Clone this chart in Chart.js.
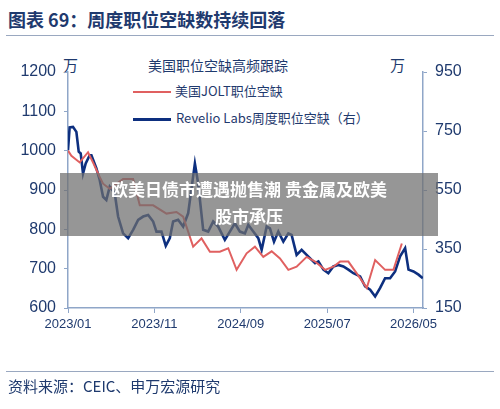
<!DOCTYPE html><html><head><meta charset="utf-8">
<script src="https://cdn.jsdelivr.net/npm/chart.js@4"></script>
<style>
body{margin:0;width:500px;height:409px;background:#fff;position:relative;overflow:hidden;font-family:"Noto Sans CJK SC","Noto Sans",sans-serif}
.a{position:absolute;white-space:nowrap}
canvas{position:absolute;left:0;top:0}
</style></head><body>
<div class="a" style="left:8px;top:6px;font-size:18px;font-weight:bold;color:#1f3a6e">图表 69：周度职位空缺数持续回落</div>
<div class="a" style="left:6px;top:35px;width:488px;height:1px;background:#9aa8c0"></div>
<div class="a" style="left:148px;top:55px;font-size:14px;color:#1f3a6e">美国职位空缺高频跟踪</div>
<div class="a" style="left:63px;top:54px;font-size:15px;color:#1f3a6e">万</div>
<div class="a" style="left:390px;top:54px;font-size:15px;color:#1f3a6e">万</div>
<div class="a" style="left:133px;top:91px;width:38px;height:2px;background:#e06060"></div>
<div class="a" style="left:175px;top:81px;font-size:13px;color:#1f3a6e">美国JOLT职位空缺</div>
<div class="a" style="left:133px;top:118px;width:38px;height:3px;background:#0d2f7f"></div>
<div class="a" style="left:176px;top:108px;font-size:13px;color:#1f3a6e">Revelio Labs周度职位空缺（右）</div>
<canvas id="c" width="500" height="409"></canvas>
<div class="a" style="left:60px;top:173px;width:378px;height:63px;background:rgba(110,110,110,0.72)"></div>
<div class="a" style="left:60px;top:175px;width:378px;text-align:center;font-size:17px;font-weight:bold;color:#fff;line-height:27px;white-space:normal">欧美日债市遭遇抛售潮 贵金属及欧美<br>股市承压</div>
<div class="a" style="left:6px;top:371px;width:488px;height:1px;background:#9aa8c0"></div>
<div class="a" style="left:8px;top:375px;font-size:15px;color:#1f3a6e">资料来源：CEIC、申万宏源研究</div>
<script>
const xTicks=[0,10,20,30,40];
const xLabels=['2023/01','2023/11','2024/09','2025/07','2026/05'];
const joltMonths=[0,0.39,1.35,2.32,2.90,3.67,4.06,4.83,6.38,7.54,8.31,9.86,11.40,12.56,13.33,14.49,15.46,16.43,17.58,18.55,19.52,20.68,21.64,22.61,23.58,24.54,25.51,26.47,27.63,28.60,29.76,30.72,31.50,32.46,33.43,34.59,35.56,36.71,37.68,38.65];
const joltValues=[1000,987,970,996,970,933,916,903,928,928,861,861,840,844,832,756,777,743,743,752,697,739,756,730,744,726,697,705,730,718,697,705,718,718,688,651,722,697,697,764];
const revMonths=[0,0.19,0.58,0.97,1.24,1.47,1.74,2.05,2.51,2.71,3.29,3.67,4.06,4.44,4.83,5.41,5.80,6.38,6.96,7.54,8.12,8.70,9.28,9.86,10.24,10.82,11.32,11.79,12.17,12.75,13.33,13.91,14.69,15.07,15.65,16.23,16.81,17.39,18.16,18.74,19.32,19.90,20.48,20.87,21.45,22.03,22.42,23.00,23.38,23.85,24.35,24.93,25.51,25.89,26.47,27.05,27.63,28.21,28.60,28.99,29.57,30.14,30.72,31.30,31.88,32.46,33.04,33.82,34.40,34.98,35.56,36.14,36.71,37.29,37.87,38.45,39.03,39.42,40.00,40.58,41.08];
const revValues=[685,762,764,747,680,674,606,640,668,668,623,584,527,516,561,539,460,403,387,415,449,460,465,443,409,409,361,387,443,449,426,471,640,572,415,409,443,426,381,409,437,409,403,432,409,387,347,426,420,375,409,375,403,398,330,347,330,313,302,308,280,268,291,296,291,280,268,257,223,212,189,218,251,251,274,325,353,280,274,263,251];
const pts=(xs,ys)=>xs.map((x,i)=>({x,y:ys[i]}));
const tc='#1f3a6e',ac='#8fa6c8';
new Chart(document.getElementById('c'),{type:'line',
data:{datasets:[
{data:pts(joltMonths,joltValues),borderColor:'#e06060',borderWidth:2,pointRadius:0,yAxisID:'y',tension:0},
{data:pts(revMonths,revValues),borderColor:'#0d2f7f',borderWidth:2.6,pointRadius:0,yAxisID:'y2',tension:0}]},
options:{responsive:false,animation:false,events:[],
layout:{padding:{top:72,right:0,left:0,bottom:0}},
plugins:{legend:{display:false},tooltip:{enabled:false}},
scales:{
x:{type:'linear',min:0,max:41.1,afterBuildTicks:s=>{s.ticks=xTicks.map(v=>({value:v}))},
 afterFit:s=>{s.height=101},
 grid:{display:true,drawOnChartArea:false,color:ac,tickLength:5},border:{color:ac,width:1.5},
 ticks:{color:tc,font:{size:13},padding:4,callback:v=>xLabels[xTicks.indexOf(v)]}},
y:{position:'left',min:600,max:1200,afterFit:s=>{s.width=68},
 ticks:{stepSize:100,color:tc,font:{size:16},padding:8,callback:v=>String(v)},
 grid:{drawOnChartArea:false,color:ac,tickLength:4},border:{color:ac,width:1.5}},
y2:{position:'right',min:150,max:950,afterFit:s=>{s.width=77},
 ticks:{stepSize:200,color:tc,font:{size:16},padding:8,callback:v=>String(v)},
 grid:{drawOnChartArea:false,color:ac,tickLength:4},border:{color:ac,width:1.5}}
}}});
</script></body></html>
